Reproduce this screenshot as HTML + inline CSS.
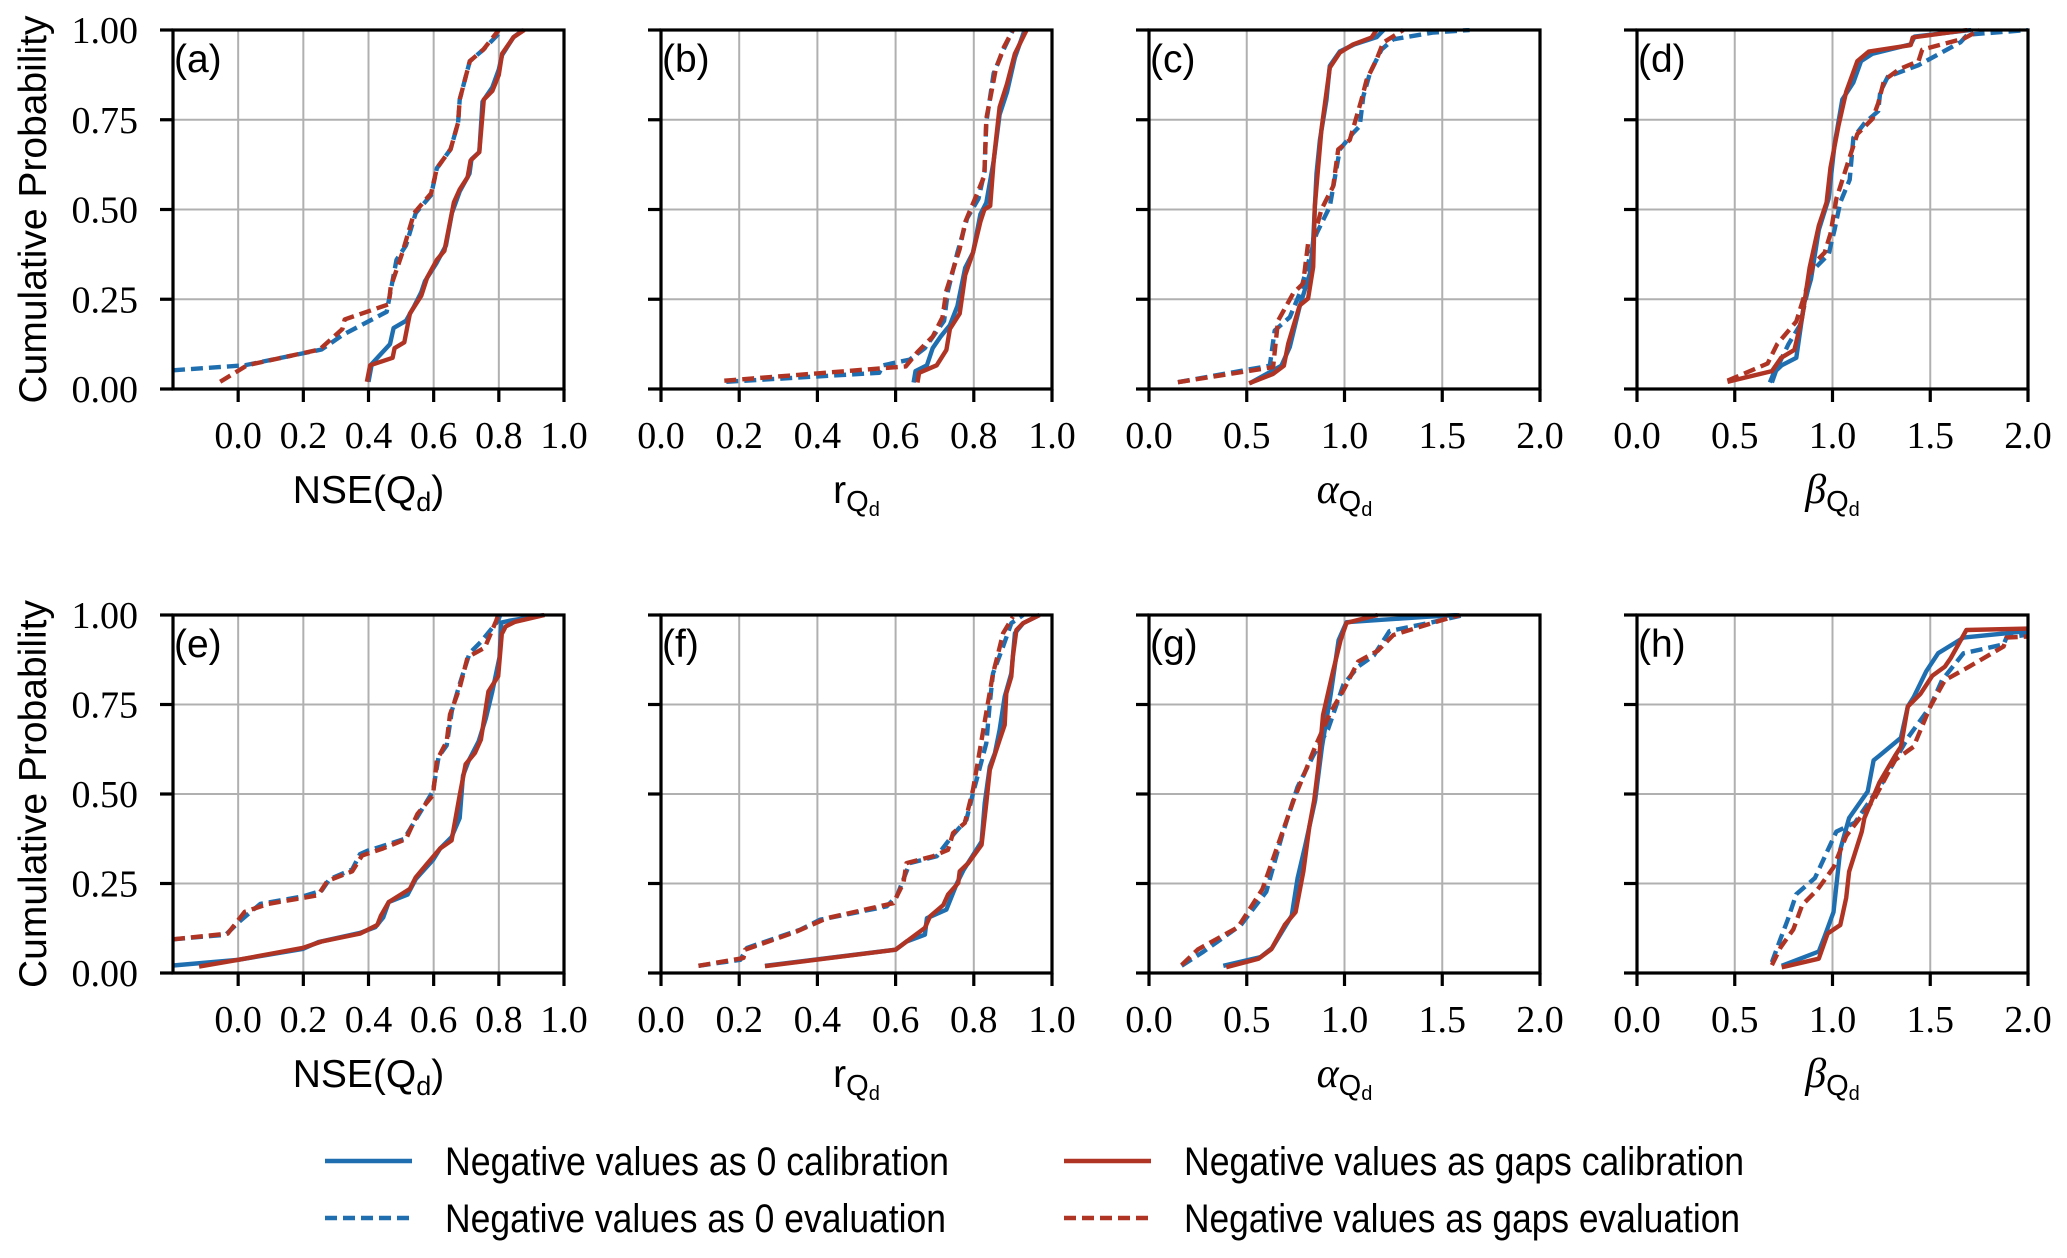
<!DOCTYPE html>
<html><head><meta charset="utf-8">
<style>
html,body{margin:0;padding:0;background:#fff;}
svg{display:block;}
.tick{font-family:"Liberation Serif",serif;font-size:38px;fill:#000;}
.lab{font-family:"Liberation Sans",sans-serif;font-size:39px;fill:#000;}
.plab{font-family:"Liberation Sans",sans-serif;font-size:39px;fill:#000;}
.leg{font-family:"Liberation Sans",sans-serif;font-size:40px;fill:#000;}
</style></head>
<body>
<svg id="fig" width="2067" height="1258" viewBox="0 0 2067 1258" xmlns="http://www.w3.org/2000/svg"></svg>
<script>
const panelIds = ['a','b','c','d','e','f','g','h'];
const xDomains = [[-0.2,1],[0,1],[0,2],[0,2],[-0.2,1],[0,1],[0,2],[0,2]];
const xTickVals = [[0,0.2,0.4,0.6,0.8,1.0],[0,0.2,0.4,0.6,0.8,1.0],[0,0.5,1,1.5,2],[0,0.5,1,1.5,2],[0,0.2,0.4,0.6,0.8,1.0],[0,0.2,0.4,0.6,0.8,1.0],[0,0.5,1,1.5,2],[0,0.5,1,1.5,2]];
const yTickVals = [0,0.25,0.5,0.75,1.0];
const yTickLabels = ['0.00','0.25','0.50','0.75','1.00'];

const aZeroCalX=[0.40,0.41,0.466,0.477,0.515,0.54,0.562,0.573,0.608,0.638,0.656,0.68,0.71,0.716,0.74,0.75,0.78,0.8,0.81,0.845,0.875];
const aZeroCalY=[0.02,0.07,0.125,0.17,0.19,0.23,0.27,0.30,0.35,0.4,0.49,0.55,0.6,0.64,0.66,0.8,0.84,0.89,0.93,0.98,1.0];
const aGapCalX=[0.395,0.405,0.474,0.48,0.51,0.527,0.562,0.58,0.61,0.633,0.662,0.68,0.704,0.713,0.74,0.754,0.78,0.8,0.81,0.845,0.878];
const aGapCalY=[0.02,0.066,0.087,0.114,0.13,0.21,0.26,0.31,0.36,0.385,0.52,0.556,0.59,0.636,0.66,0.806,0.83,0.875,0.934,0.98,1.0];
const aZeroEvX=[-0.2,0.02,0.256,0.32,0.456,0.468,0.486,0.515,0.545,0.592,0.61,0.652,0.675,0.68,0.711,0.752,0.8,0.806];
const aZeroEvY=[0.052,0.066,0.11,0.15,0.215,0.274,0.36,0.40,0.49,0.54,0.615,0.668,0.742,0.806,0.913,0.945,0.99,1.0];
const aGapEvX=[-0.055,0.027,0.25,0.32,0.327,0.462,0.468,0.504,0.54,0.592,0.61,0.652,0.675,0.68,0.711,0.752,0.8];
const aGapEvY=[0.02,0.066,0.11,0.167,0.194,0.236,0.284,0.38,0.49,0.545,0.615,0.668,0.742,0.806,0.913,0.945,1.0];
const bZeroCalX=[0.646,0.651,0.68,0.695,0.715,0.739,0.758,0.778,0.798,0.817,0.832,0.851,0.866,0.885,0.905,0.93];
const bZeroCalY=[0.018,0.05,0.066,0.114,0.146,0.178,0.231,0.338,0.38,0.487,0.519,0.636,0.764,0.827,0.923,1.0];
const bGapCalX=[0.656,0.66,0.705,0.73,0.739,0.764,0.778,0.798,0.817,0.827,0.842,0.851,0.866,0.885,0.905,0.935];
const bGapCalY=[0.018,0.045,0.066,0.109,0.167,0.21,0.317,0.38,0.466,0.5,0.51,0.636,0.785,0.85,0.934,1.0];
const bZeroEvX=[0.167,0.558,0.568,0.636,0.675,0.724,0.734,0.758,0.783,0.812,0.827,0.832,0.851,0.876,0.9];
const bZeroEvY=[0.02,0.045,0.066,0.082,0.114,0.19,0.274,0.38,0.476,0.53,0.604,0.742,0.88,0.945,1.0];
const bGapEvX=[0.162,0.626,0.656,0.695,0.72,0.73,0.764,0.778,0.807,0.827,0.832,0.847,0.856,0.876,0.9];
const bGapEvY=[0.023,0.063,0.103,0.146,0.2,0.274,0.39,0.465,0.54,0.594,0.753,0.838,0.89,0.95,1.0];
const cZeroCalX=[0.515,0.677,0.72,0.77,0.823,0.84,0.857,0.874,0.908,0.925,0.976,1.05,1.164,1.2];
const cZeroCalY=[0.016,0.065,0.117,0.228,0.322,0.415,0.6,0.694,0.806,0.9,0.94,0.96,0.98,1.0];
const cGapCalX=[0.512,0.635,0.69,0.712,0.737,0.771,0.814,0.84,0.848,0.882,0.925,0.976,1.044,1.138,1.164];
const cGapCalY=[0.016,0.042,0.065,0.126,0.172,0.233,0.252,0.34,0.508,0.722,0.895,0.937,0.96,0.979,1.0];
const cZeroEvX=[0.148,0.618,0.643,0.72,0.771,0.823,0.857,0.925,0.976,1.044,1.078,1.096,1.13,1.19,1.25,1.455,1.64];
const cZeroEvY=[0.019,0.065,0.163,0.2,0.266,0.368,0.433,0.508,0.667,0.713,0.732,0.815,0.88,0.946,0.974,0.993,1.0];
const cGapEvX=[0.148,0.635,0.66,0.737,0.788,0.814,0.84,0.882,0.942,0.968,1.027,1.087,1.113,1.164,1.198,1.3];
const cGapEvY=[0.019,0.061,0.19,0.266,0.294,0.406,0.415,0.5,0.565,0.667,0.694,0.806,0.861,0.918,0.965,1.0];
const dZeroCalX=[0.68,0.70,0.74,0.815,0.855,0.89,0.93,0.98,1.01,1.05,1.107,1.146,1.205,1.4,1.42,1.71];
const dZeroCalY=[0.018,0.045,0.066,0.087,0.24,0.306,0.443,0.53,0.68,0.806,0.854,0.913,0.934,0.96,0.982,1.0];
const dGapCalX=[0.463,0.69,0.737,0.805,0.845,0.883,0.93,0.97,0.99,1.03,1.07,1.127,1.186,1.4,1.41,1.69];
const dGapCalY=[0.02,0.05,0.087,0.109,0.2,0.338,0.455,0.52,0.617,0.732,0.828,0.913,0.94,0.958,0.979,1.0];
const dZeroEvX=[0.69,0.717,0.775,0.834,0.873,0.893,0.98,1.01,1.04,1.088,1.107,1.166,1.234,1.244,1.283,1.44,1.655,1.69,2.0];
const dZeroEvY=[0.018,0.06,0.125,0.178,0.274,0.327,0.375,0.443,0.52,0.583,0.7,0.742,0.774,0.827,0.87,0.902,0.966,0.987,1.0];
const dGapEvX=[0.463,0.668,0.717,0.815,0.864,0.902,0.96,0.99,1.02,1.088,1.127,1.205,1.234,1.264,1.342,1.44,1.459,1.674,1.752];
const dGapEvY=[0.023,0.071,0.125,0.188,0.274,0.348,0.38,0.433,0.53,0.646,0.71,0.753,0.796,0.86,0.891,0.913,0.945,0.977,1.0];
const eZeroCalX=[-0.2,0,0.198,0.245,0.374,0.421,0.445,0.462,0.52,0.545,0.598,0.62,0.655,0.68,0.69,0.708,0.738,0.76,0.78,0.802,0.808,0.833,0.939];
const eZeroCalY=[0.021,0.037,0.067,0.086,0.112,0.128,0.155,0.198,0.219,0.262,0.316,0.348,0.38,0.433,0.551,0.594,0.647,0.711,0.786,0.882,0.979,0.984,1.0];
const eGapCalX=[-0.12,0,0.198,0.256,0.374,0.427,0.438,0.462,0.527,0.545,0.58,0.62,0.655,0.68,0.698,0.727,0.745,0.768,0.798,0.809,0.821,0.85,0.94];
const eGapCalY=[0.018,0.037,0.07,0.088,0.11,0.134,0.16,0.198,0.235,0.267,0.305,0.348,0.37,0.497,0.583,0.615,0.652,0.786,0.829,0.947,0.968,0.981,1.0];
const eZeroEvX=[-0.2,-0.038,0.004,0.068,0.198,0.256,0.28,0.35,0.374,0.398,0.456,0.509,0.527,0.598,0.615,0.64,0.656,0.68,0.71,0.745,0.798,0.804];
const eZeroEvY=[0.094,0.107,0.144,0.193,0.214,0.23,0.262,0.289,0.332,0.342,0.358,0.374,0.401,0.508,0.604,0.636,0.733,0.807,0.893,0.925,0.984,1.0];
const eGapEvX=[-0.2,-0.032,0.02,0.092,0.245,0.274,0.35,0.38,0.445,0.515,0.55,0.598,0.61,0.64,0.65,0.68,0.704,0.757,0.792,0.798];
const eGapEvY=[0.094,0.11,0.171,0.193,0.217,0.257,0.284,0.328,0.348,0.374,0.444,0.497,0.594,0.647,0.722,0.797,0.882,0.909,0.984,1.0];
const fZeroCalX=[0.266,0.6,0.628,0.675,0.68,0.73,0.757,0.774,0.82,0.828,0.841,0.854,0.866,0.879,0.896,0.905,0.926,0.968];
const fZeroCalY=[0.02,0.065,0.088,0.107,0.153,0.177,0.251,0.288,0.367,0.474,0.577,0.614,0.679,0.772,0.837,0.949,0.977,1.0];
const fGapCalX=[0.266,0.6,0.675,0.688,0.722,0.734,0.76,0.764,0.786,0.82,0.832,0.841,0.866,0.879,0.883,0.896,0.9,0.909,0.926,0.968];
const fGapCalY=[0.019,0.065,0.126,0.158,0.19,0.219,0.251,0.284,0.307,0.358,0.474,0.567,0.651,0.693,0.781,0.828,0.884,0.958,0.977,1.0];
const fZeroEvX=[0.096,0.203,0.22,0.356,0.407,0.577,0.603,0.636,0.705,0.747,0.781,0.798,0.832,0.841,0.849,0.875,0.896,0.926];
const fZeroEvY=[0.02,0.037,0.07,0.121,0.149,0.186,0.214,0.307,0.326,0.386,0.428,0.502,0.642,0.753,0.837,0.912,0.977,1.0];
const fGapEvX=[0.096,0.211,0.215,0.347,0.424,0.594,0.62,0.628,0.696,0.734,0.747,0.777,0.798,0.82,0.849,0.858,0.875,0.9];
const fGapEvY=[0.02,0.042,0.065,0.116,0.153,0.195,0.251,0.307,0.326,0.344,0.391,0.419,0.512,0.651,0.837,0.874,0.949,0.995];
const gZeroCalX=[0.38,0.57,0.63,0.73,0.76,0.8,0.85,0.885,0.93,0.97,1.01,1.42,1.58];
const gZeroCalY=[0.02,0.044,0.07,0.16,0.265,0.358,0.483,0.632,0.78,0.93,0.98,0.995,1.0];
const gGapCalX=[0.395,0.56,0.625,0.695,0.75,0.79,0.82,0.845,0.867,0.89,0.94,0.98,1.01,1.17];
const gGapCalY=[0.016,0.04,0.066,0.135,0.17,0.284,0.408,0.483,0.58,0.72,0.84,0.93,0.978,1.0];
const gZeroEvX=[0.167,0.28,0.47,0.6,0.68,0.76,0.84,0.915,0.995,1.07,1.15,1.23,1.45,1.61];
const gZeroEvY=[0.02,0.06,0.134,0.227,0.383,0.52,0.607,0.68,0.806,0.856,0.887,0.955,0.98,1.0];
const gGapEvX=[0.167,0.25,0.455,0.58,0.66,0.74,0.85,0.93,0.995,1.07,1.17,1.25,1.5,1.59];
const gGapEvY=[0.022,0.066,0.128,0.234,0.358,0.483,0.632,0.73,0.79,0.87,0.9,0.944,0.986,1.0];
const hZeroCalX=[0.74,0.93,0.96,1.005,1.04,1.085,1.18,1.21,1.24,1.35,1.385,1.415,1.48,1.54,1.67,2.0];
const hZeroCalY=[0.02,0.06,0.103,0.17,0.345,0.433,0.507,0.594,0.607,0.657,0.744,0.77,0.843,0.893,0.937,0.955];
const hGapCalX=[0.74,0.93,0.975,1.04,1.07,1.085,1.15,1.163,1.24,1.32,1.35,1.385,1.45,1.51,1.575,1.605,1.685,2.0];
const hGapCalY=[0.016,0.04,0.11,0.134,0.21,0.283,0.395,0.433,0.532,0.607,0.632,0.744,0.78,0.83,0.856,0.88,0.958,0.962];
const hZeroEvX=[0.69,0.735,0.77,0.815,0.91,1.02,1.115,1.255,1.385,1.5,1.56,1.67,1.875,1.89,2.0];
const hZeroEvY=[0.03,0.097,0.147,0.22,0.265,0.395,0.42,0.532,0.657,0.744,0.818,0.893,0.918,0.937,0.945];
const hGapEvX=[0.69,0.735,0.8,0.845,0.925,1.005,1.07,1.21,1.32,1.415,1.5,1.575,1.7,1.875,1.89,2.0];
const hGapEvY=[0.022,0.072,0.122,0.19,0.234,0.295,0.383,0.483,0.595,0.632,0.744,0.818,0.856,0.912,0.937,0.94];

const seriesData = {
  a:[[aZeroCalX,aZeroCalY],[aGapCalX,aGapCalY],[aZeroEvX,aZeroEvY],[aGapEvX,aGapEvY]],
  b:[[bZeroCalX,bZeroCalY],[bGapCalX,bGapCalY],[bZeroEvX,bZeroEvY],[bGapEvX,bGapEvY]],
  c:[[cZeroCalX,cZeroCalY],[cGapCalX,cGapCalY],[cZeroEvX,cZeroEvY],[cGapEvX,cGapEvY]],
  d:[[dZeroCalX,dZeroCalY],[dGapCalX,dGapCalY],[dZeroEvX,dZeroEvY],[dGapEvX,dGapEvY]],
  e:[[eZeroCalX,eZeroCalY],[eGapCalX,eGapCalY],[eZeroEvX,eZeroEvY],[eGapEvX,eGapEvY]],
  f:[[fZeroCalX,fZeroCalY],[fGapCalX,fGapCalY],[fZeroEvX,fZeroEvY],[fGapEvX,fGapEvY]],
  g:[[gZeroCalX,gZeroCalY],[gGapCalX,gGapCalY],[gZeroEvX,gZeroEvY],[gGapEvX,gGapEvY]],
  h:[[hZeroCalX,hZeroCalY],[hGapCalX,hGapCalY],[hZeroEvX,hZeroEvY],[hGapEvX,hGapEvY]]
};
const seriesNames = ['neg-as-zero-calibration','neg-as-gaps-calibration','neg-as-zero-evaluation','neg-as-gaps-evaluation'];
const seriesColors = ['#1f6fb0','#b03424','#1f6fb0','#b03424'];
const seriesDash = ['', '', '12,6', '12,6'];
const legendLabels = ['Negative values as 0 calibration','Negative values as 0 evaluation','Negative values as gaps calibration','Negative values as gaps evaluation'];

const NS='http://www.w3.org/2000/svg';
const svg=document.getElementById('fig');
function mk(tag,attrs,parent){const e=document.createElementNS(NS,tag);for(const k in attrs)e.setAttribute(k,attrs[k]);(parent||svg).appendChild(e);return e;}

const lefts=[173,661,1149,1637], W=391;
const tops=[30,615], H=[359,358];

panelIds.forEach((pid,i)=>{
  const col=i%4,row=Math.floor(i/4);
  const L=lefts[col],T=tops[row],h=H[row],R=L+W,B=T+h;
  const [x0,x1]=xDomains[i];
  const sx=v=>L+(v-x0)/(x1-x0)*W;
  const sy=v=>B-v*h;
  const g=mk('g',{});
  
  
  xTickVals[i].forEach(v=>{const l=mk('line',{x1:sx(v),x2:sx(v),y1:T,y2:B,stroke:'#b0b0b0','stroke-width':2},g);
    
    });
  yTickVals.forEach(v=>{const l=mk('line',{x1:L,x2:R,y1:sy(v),y2:sy(v),stroke:'#b0b0b0','stroke-width':2},g);
    
    });
  const cp=mk('clipPath',{id:'clip'+pid},g);mk('rect',{x:L,y:T-2,width:W,height:h+4},cp);
  const sg=mk('g',{'clip-path':'url(#clip'+pid+')'},g);
  [0,2,1,3].forEach(si=>{
    const [xs,ys]=seriesData[pid][si];
    const pts=xs.map((x,k)=>sx(x).toFixed(1)+','+sy(ys[k]).toFixed(1)).join(' ');
    const p=mk('polyline',{points:pts,fill:'none',stroke:seriesColors[si],'stroke-width':4.4,'stroke-linejoin':'round'},sg);
    if(seriesDash[si])p.setAttribute('stroke-dasharray',seriesDash[si]);
    
    
  });
  const fr=mk('rect',{x:L,y:T,width:W,height:h,fill:'none',stroke:'#000','stroke-width':3.2},g);
  
  
  xTickVals[i].forEach(v=>{
    mk('line',{x1:sx(v),x2:sx(v),y1:B,y2:B+13,stroke:'#000','stroke-width':3.2},g);
    const t=mk('text',{x:sx(v),y:B+59,'text-anchor':'middle',class:'tick'},g);
    t.textContent=v.toFixed(1);
    
    
  });
  yTickVals.forEach((v,k)=>{
    mk('line',{x1:L-13,x2:L,y1:sy(v),y2:sy(v),stroke:'#000','stroke-width':3.2},g);
    if(col===0){
      const t=mk('text',{x:L-35,y:sy(v)+13,'text-anchor':'end',class:'tick'},g);
      t.textContent=yTickLabels[k];
      
      
    }
  });
  const pl=mk('text',{x:L+1,y:T+42,class:'plab'},g);
  pl.textContent='('+pid+')';
  
  
  const cx=L+W/2, ly=B+114;
  const xl=mk('text',{x:cx,y:ly,'text-anchor':'middle',class:'lab'},g);
  
  
  const sub=(parent)=>{const q=mk('tspan',{dy:8,'font-size':29},parent);q.textContent='Q';const d=mk('tspan',{dy:5,'font-size':20},parent);d.textContent='d';};
  if(col===0){
    const a=mk('tspan',{},xl);a.textContent='NSE(Q';
    const d=mk('tspan',{dy:8,'font-size':27},xl);d.textContent='d';
    const c=mk('tspan',{dy:-8},xl);c.textContent=')';
  } else if(col===1){
    const a=mk('tspan',{},xl);a.textContent='r';sub(xl);
  } else {
    const a=mk('tspan',{'font-family':'"Liberation Serif",serif','font-style':'italic','font-size':42},xl);a.textContent=col===2?'α':'β';sub(xl);
  }
  if(col===0){
    const yl=mk('text',{x:0,y:0,'text-anchor':'middle',class:'lab',transform:'translate(46,'+(T+h/2)+') rotate(-90)'},g);
    yl.textContent='Cumulative Probability';
    
    
  }
});

const lg=mk('g',{});


const legPos=[[325,1161,445,504],[325,1218,445,501],[1064,1161,1184,560],[1064,1218,1184,556]];
const legSeries=[0,2,1,3];
legPos.forEach((p,k)=>{
  const si=legSeries[k];
  const e=mk('g',{},lg);
  
  
  const l=mk('line',{x1:p[0],x2:p[0]+87,y1:p[1],y2:p[1],stroke:seriesColors[si],'stroke-width':4.4},e);
  if(seriesDash[si])l.setAttribute('stroke-dasharray',seriesDash[si]);
  const t=mk('text',{x:p[2],y:p[1]+14,class:'leg',textLength:p[3],lengthAdjust:'spacingAndGlyphs'},e);
  t.textContent=legendLabels[k];
});
</script>
</body></html>
